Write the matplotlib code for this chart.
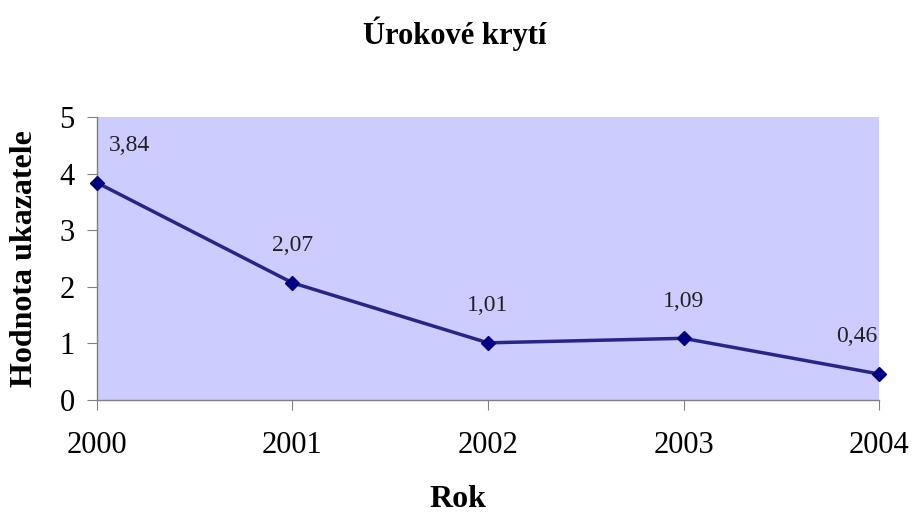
import matplotlib
matplotlib.use('Agg')
import matplotlib.pyplot as plt

years = ['2000', '2001', '2002', '2003', '2004']
values = [3.84, 2.07, 1.01, 1.09, 0.46]
value_labels = ['3,84', '2,07', '1,01', '1,09', '0,46']
y_ticks = [0, 1, 2, 3, 4, 5]

plt.rcParams['font.family'] = ['Liberation Serif', 'DejaVu Serif']

fig = plt.figure(figsize=(9.13, 5.18), dpi=100)
ax = fig.add_axes([0.1062, 0.2278, 0.8566, 0.5463])
ax.set_facecolor('#CCCCFF')

xs = list(range(len(years)))
ax.plot(xs, values, color='#262687', linewidth=2.5, marker='D',
        markersize=7, markerfacecolor='#000080', markeredgecolor='#000080',
        clip_on=False, zorder=3)

# data labels, Excel style: above the point, shifted in at the ends
for i, (x, y, lab) in enumerate(zip(xs, values, value_labels)):
    if i == 0:
        ha, dx = 'left', 12
    elif i == len(xs) - 1:
        ha, dx = 'right', -2
    else:
        ha, dx = 'center', 0
    ax.annotate(lab, (x, y), xytext=(dx, 37), textcoords='offset pixels',
                ha=ha, va='center', fontsize=17, color='#222222')

ax.set_xlim(0, len(years) - 1)
ax.set_ylim(0, 5)
ax.set_xticks(xs)
ax.set_xticklabels(years)
ax.set_yticks(y_ticks)

for s in ['top', 'right']:
    ax.spines[s].set_visible(False)
for s in ['left', 'bottom']:
    ax.spines[s].set_color('#808080')
    ax.spines[s].set_linewidth(1.0)

ax.tick_params(axis='x', direction='out', length=7, color='#808080',
               labelsize=22, pad=15)
ax.tick_params(axis='y', direction='out', length=7, color='#808080',
               labelsize=22, pad=9)

fig.text(0.498, 0.935, 'Úrokové krytí', ha='center', va='center',
         fontsize=22, fontweight='bold')
fig.text(0.502, 0.036, 'Rok', ha='center', va='center',
         fontsize=23, fontweight='bold')
fig.text(0.027, 0.5, 'Hodnota ukazatele', ha='center', va='center',
         rotation=90, fontsize=23, fontweight='bold')

fig.savefig('out.png', dpi=100)
